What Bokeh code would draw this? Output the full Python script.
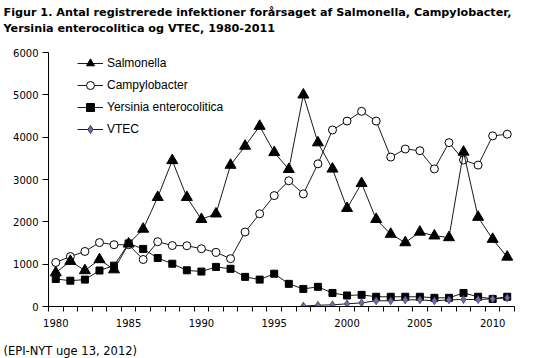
from bokeh.plotting import figure
from bokeh.models import (Range1d, FixedTicker, ColumnDataSource, Legend, LegendItem, Title)
from bokeh.embed import file_html
from bokeh.resources import INLINE

years = list(range(1980, 2012))
salmonella = [800, 1070, 850, 1110, 870, 1480, 1830, 2580, 3450, 2580, 2060, 2190,
              3340, 3790, 4260, 3640, 3240, 5000, 3870, 3250, 2320, 2910, 2060, 1710,
              1510, 1760, 1670, 1630, 3650, 2110, 1590, 1170]
campylobacter = [1040, 1180, 1300, 1510, 1460, 1460, 1110, 1530, 1440, 1435, 1365, 1280,
                 1130, 1760, 2190, 2620, 2970, 2660, 3370, 4170, 4380, 4610, 4380, 3530,
                 3720, 3680, 3250, 3870, 3460, 3340, 4030, 4070]
yersinia = [650, 610, 635, 850, 965, 1490, 1360, 1145, 1010, 855, 825, 935,
            890, 700, 635, 775, 535, 415, 465, 320, 260, 275, 230, 230,
            230, 230, 205, 205, 320, 230, 180, 230]
vtec_years = list(range(1997, 2012))
vtec = [10, 30, 40, 63, 86, 134, 134, 157, 157, 134, 157, 165, 165, 180, 204]

x_labels = [1980, 1985, 1990, 1995, 2000, 2005, 2010]
y_ticks = [0, 1000, 2000, 3000, 4000, 5000, 6000]

title1 = "Figur 1. Antal registrerede infektioner forårsaget af Salmonella, Campylobacter,"
title2 = "Yersinia enterocolitica og VTEC, 1980-2011"
footer = "(EPI-NYT uge 13, 2012)"
names = ["Salmonella", "Campylobacter", "Yersinia enterocolitica", "VTEC"]

AX_FONT = "DejaVu Sans"
LINE = "#1a1a1a"
PURPLE = "#7a66ab"
PURPLE_EDGE = "#3d3357"
BLANK = "\u00a0"

p = figure(width=542, height=358, output_backend="svg", toolbar_location=None,
           x_range=Range1d(1979.5, 2011.5), y_range=Range1d(0, 6000),
           min_border_left=48, min_border_right=28, min_border_top=52, min_border_bottom=51)
p.outline_line_color = None
p.grid.visible = False
p.background_fill_color = "white"

# axes
p.xaxis.ticker = FixedTicker(ticks=x_labels, minor_ticks=[y - 0.5 for y in years] + [2011.5])
p.xaxis.major_tick_out = 0
p.xaxis.major_tick_in = 0
p.xaxis.minor_tick_out = 5
p.xaxis.minor_tick_in = 0
p.xaxis.major_label_standoff = 7
p.yaxis.ticker = FixedTicker(ticks=y_ticks)
p.yaxis.major_tick_out = 6
p.yaxis.major_tick_in = 0
p.yaxis.major_label_standoff = 4
for ax in (p.xaxis, p.yaxis):
    ax.axis_line_color = "black"
    ax.major_tick_line_color = "black"
    ax.minor_tick_line_color = "black"
    ax.major_label_text_font = AX_FONT
    ax.major_label_text_font_size = "10px"
    ax.major_label_text_color = "black"
p.yaxis.minor_tick_line_color = None

# series
src_s = ColumnDataSource(dict(x=years, y=salmonella))
src_c = ColumnDataSource(dict(x=years, y=campylobacter))
src_y = ColumnDataSource(dict(x=years, y=yersinia))
src_v = ColumnDataSource(dict(x=vtec_years, y=vtec))

p.line("x", "y", source=src_y, line_color=LINE, line_width=1)
p.scatter("x", "y", source=src_y, marker="square", size=7, fill_color="black", line_color="black")
p.line("x", "y", source=src_v, line_color=LINE, line_width=1)
p.scatter("x", "y", source=src_v, marker="diamond", size=8, fill_color=PURPLE,
          line_color=PURPLE_EDGE, line_width=0.7)
p.line("x", "y", source=src_c, line_color=LINE, line_width=1)
p.scatter("x", "y", source=src_c, marker="circle", size=8, fill_color="white", line_color="black")
p.line("x", "y", source=src_s, line_color=LINE, line_width=1)
p.scatter("x", "y", source=src_s, marker="triangle", size=11, fill_color="black", line_color="black")

# legend with smaller key markers (hidden placeholder sources, nothing drawn in the plot)
items = []
specs = [("triangle", 7, "black", "black"), ("circle", 6, "white", "black"),
         ("square", 5, "black", "black"), ("diamond", 7, PURPLE, PURPLE_EDGE)]
for name, (mk, sz, fc, lc) in zip(names, specs):
    e = ColumnDataSource(dict(x=[float("nan")], y=[float("nan")]))
    r1 = p.line("x", "y", source=e, line_color=LINE, line_width=1)
    r2 = p.scatter("x", "y", source=e, marker=mk, size=sz, fill_color=fc, line_color=lc)
    items.append(LegendItem(label=name, renderers=[r1, r2]))
legend = Legend(items=items, location=(29, 167), border_line_color=None,
                background_fill_alpha=0, padding=0, margin=0, spacing=2,
                glyph_width=26, glyph_height=20, label_height=20, label_standoff=4,
                label_text_font="Liberation Sans", label_text_font_size="12px",
                label_text_color="black")
p.add_layout(legend, "center")

# title (two lines plus a blank spacer line) and footer (blank spacer line first)
p.add_layout(Title(text=title1 + "\n" + title2 + "\n" + BLANK, align="left", offset=-45, standoff=2,
                   text_font=AX_FONT, text_font_style="bold", text_font_size="11.2px",
                   text_line_height=1.24, text_color="black"), "above")
p.add_layout(Title(text=BLANK + "\n" + footer, align="left", offset=-45, standoff=2,
                   text_font=AX_FONT, text_font_style="normal", text_font_size="11.5px",
                   text_line_height=0.75, text_color="black"), "below")

open("out.html", "w").write(file_html(p, INLINE))
